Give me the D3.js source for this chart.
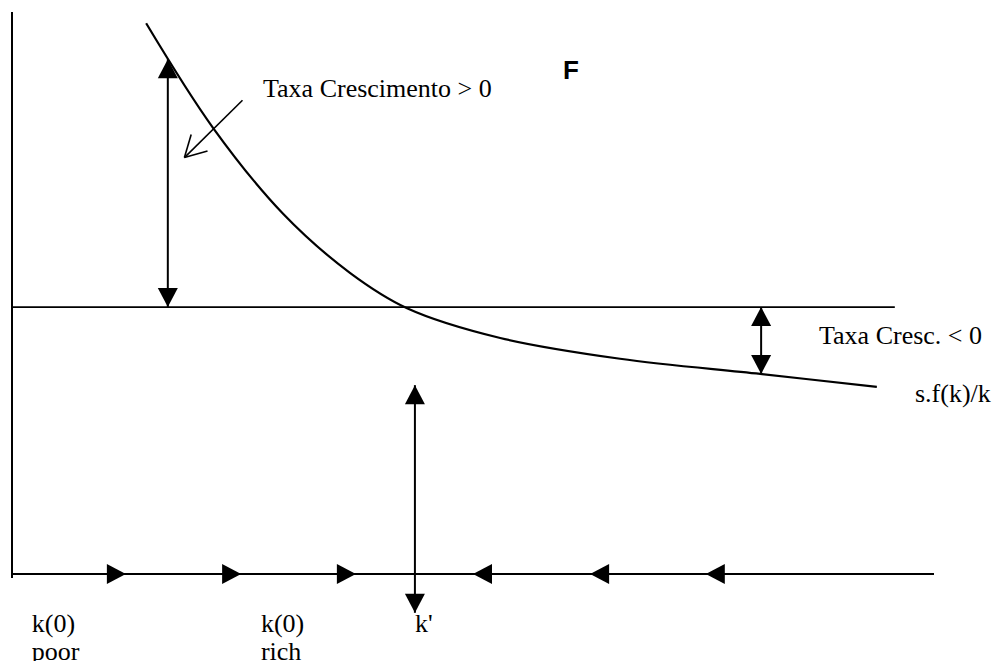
<!DOCTYPE html>
<html>
<head>
<meta charset="utf-8">
<script src="https://cdn.jsdelivr.net/npm/d3@7"></script>
<style>
body { margin: 0; background: #fff; }
text { font-family: "Liberation Serif", "Times New Roman", serif; font-size: 26px; fill: #000; }
.sans { font-family: "Liberation Sans", Arial, sans-serif; font-weight: bold; }
</style>
</head>
<body>
<script>
///////////////////   Data   /////////////////

// s.f(k)/k curve (k, value)
var curveK = [2.91, 4.36, 5.88, 7.33, 8.57, 10.59, 13.19, 16.23, 18.76],
    curveV = [9.80, 7.94, 6.41, 5.36, 4.73, 4.20, 3.83, 3.56, 3.33];

// flat (n + delta) line
var flatLevel = 4.75,
    flatEnd = 19.15;

// direction arrows on the k axis
var rightArrowK = [2.47, 4.97, 7.46],
    leftArrowK = [10.0, 12.54, 15.05];

// growth rate arrows
var kHigh = 3.38, vHigh = 9.16,   // left double arrow
    kLow = 16.25, vLow = 3.56,    // right double arrow
    kStar = 8.74;                 // steady state

// labels on the k axis
var axisLabels = [
  { k: 0.43, lines: ["k(0)", "poor"] },
  { k: 5.40, lines: ["k(0)", "rich"] },
  { k: kStar, lines: ["k'"] }
];

var labelUp = "Taxa Crescimento > 0",
    labelDown = "Taxa Cresc. < 0",
    labelCurve = "s.f(k)/k",
    labelF = "F";

///////////////////   Layout   /////////////////

var width = 995, height = 661;

var x = d3.scaleLinear().domain([0, 20]).range([12, 934]);
var y = d3.scaleLinear().domain([0, 10]).range([574, 12]);

var svg = d3.select("body").append("svg")
    .attr("width", width)
    .attr("height", height);

// filled arrow head, tip at origin, pointing up before rotation
function head(px, py, angle) {
  svg.append("path")
      .attr("d", "M0,0L-10,19L10,19Z")
      .attr("transform", "translate(" + px + "," + py + ") rotate(" + angle + ")")
      .attr("fill", "#000");
}

function seg(x1, y1, x2, y2, w) {
  svg.append("line")
      .attr("x1", x1).attr("y1", y1)
      .attr("x2", x2).attr("y2", y2)
      .attr("stroke", "#000")
      .attr("stroke-width", w || 2);
}

///////////////////   Axes   /////////////////

seg(x(0), y(10), x(0), y(-0.07));
seg(x(0), y(0), x(20), y(0));

// flat line
seg(x(0), y(flatLevel), x(flatEnd), y(flatLevel), 1.8);

///////////////////   Curve   /////////////////

var pts = curveK.map(function(k, i) { return [k, curveV[i]]; });

svg.append("path")
    .datum(pts)
    .attr("d", d3.line()
        .x(function(d) { return x(d[0]); })
        .y(function(d) { return y(d[1]); })
        .curve(d3.curveCatmullRom.alpha(0.5)))
    .attr("fill", "none")
    .attr("stroke", "#000")
    .attr("stroke-width", 2.2);

///////////////////   Arrows   /////////////////

rightArrowK.forEach(function(k) { head(x(k), y(0), 90); });
leftArrowK.forEach(function(k) { head(x(k), y(0), -90); });

// growth > 0
seg(x(kHigh), y(vHigh), x(kHigh), y(flatLevel));
head(x(kHigh), y(vHigh), 0);
head(x(kHigh), y(flatLevel), 180);

// growth < 0
seg(x(kLow), y(flatLevel), x(kLow), y(vLow));
head(x(kLow), y(flatLevel), 0);
head(x(kLow), y(vLow), 180);

// steady state
seg(x(kStar), y(3.36), x(kStar), y(-0.69));
head(x(kStar), y(3.36), 0);
head(x(kStar), y(-0.69), 180);

// annotation arrow with open head
var sx = x(5.0), sy = y(8.43), tx = x(3.74), ty = y(7.41);
seg(sx, sy, tx, ty, 1.6);
var back = Math.atan2(sy - ty, sx - tx), spread = 29 * Math.PI / 180;
[-1, 1].forEach(function(s) {
  seg(tx, ty, tx + 24 * Math.cos(back + s * spread), ty + 24 * Math.sin(back + s * spread), 1.6);
});

///////////////////   Text   /////////////////

svg.append("text").attr("x", 263).attr("y", 97).text(labelUp);
svg.append("text").attr("class", "sans").attr("x", 563).attr("y", 79).text(labelF);
svg.append("text").attr("x", 819).attr("y", 344).text(labelDown);
svg.append("text").attr("x", 915).attr("y", 402).text(labelCurve);

axisLabels.forEach(function(l) {
  var t = svg.append("text").attr("x", x(l.k)).attr("y", 632);
  l.lines.forEach(function(s, i) {
    t.append("tspan").attr("x", x(l.k)).attr("dy", i ? 28 : 0).text(s);
  });
});
</script>
</body>
</html>
